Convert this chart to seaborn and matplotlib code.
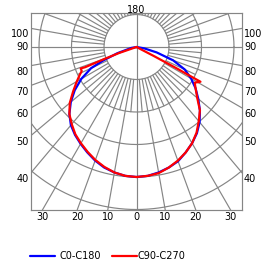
import numpy as np
import pandas as pd
import matplotlib
matplotlib.use("Agg")
import matplotlib.pyplot as plt
import seaborn as sns

# gamma angle (deg, 0 = straight down) and intensity for each half plane
gamma_c0 = [0, 5, 10, 15, 20, 25, 30, 35, 40, 45, 50, 55, 60, 65, 70, 75, 80, 90]
int_c0 = [100, 99.5, 98, 96, 93.5, 89.5, 85.5, 81, 75.5, 69, 62, 55.5, 48.5, 41, 30, 16, 6, 0]
gamma_c180 = [0, 5, 10, 15, 20, 25, 30, 35, 40, 45, 50, 55, 60, 65, 68, 72, 80, 90]
int_c180 = [100, 99.5, 98, 96, 93, 89.5, 86, 82.5, 78.5, 73, 66, 58, 49, 38.5, 27.5, 15.5, 4, 0]
gamma_c90 = [0, 5, 10, 15, 20, 25, 30, 35, 40, 45, 50, 55, 58.5, 61.5, 62, 62.5, 90]
int_c90 = [100, 99.5, 98.5, 96, 93, 89.5, 85.5, 80.5, 74.5, 69, 61, 55.5, 52.5, 56, 34.5, 15.5, 0]
gamma_c270 = [0, 5, 10, 15, 20, 25, 30, 35, 40, 45, 50, 55, 60, 64, 66.3, 69, 68.5, 69.5, 71, 90]
int_c270 = [100, 99.5, 98, 95.5, 92.5, 89, 85.5, 82, 77.5, 73, 67, 59.5, 53, 48.5, 46, 46, 42.5, 27, 14, 0]

plane_names = ["C0-C180", "C90-C270"]
plane_colors = ["#0000ff", "#ff0000"]

side_gammas = [40, 50, 60, 70, 80, 90, 100]
bottom_gammas = [-30, -20, -10, 0, 10, 20, 30]
ring_radii = [25, 50, 75, 100, 125, 150]

sns.set_style("white")
plt.rcParams["font.family"] = ["DejaVu Sans"]
plt.rcParams["font.size"] = 7
plt.rcParams["text.color"] = "black"

PX = 1.3  # pixels per intensity unit


def half(g, r, sign):
    g = np.radians(g)
    r = np.asarray(r, dtype=float)
    return sign * r * np.sin(g), -r * np.cos(g)


def full_curve(g_right, r_right, g_left, r_left):
    xr, yr = half(g_right, r_right, 1)
    xl, yl = half(g_left, r_left, -1)
    return np.concatenate([xr[::-1], xl[1:]]), np.concatenate([yr[::-1], yl[1:]])


xa, ya = full_curve(gamma_c0, int_c0, gamma_c180, int_c180)
xb, yb = full_curve(gamma_c90, int_c90, gamma_c270, int_c270)
df = pd.concat([
    pd.DataFrame({"x": xa, "y": ya, "plane": plane_names[0]}),
    pd.DataFrame({"x": xb, "y": yb, "plane": plane_names[1]}),
], ignore_index=True)

fig = plt.figure(figsize=(2.75, 2.66), dpi=100)
ax = fig.add_axes([30.5 / 275, 56 / 266, 211.5 / 275, 197 / 266])
x_lo, x_hi = (30.5 - 136.5) / PX, (242 - 136.5) / PX
y_lo, y_hi = -(210 - 47) / PX, (47 - 13) / PX
ax.set_xlim(x_lo, x_hi)
ax.set_ylim(y_lo, y_hi)

gc = "#858585"
t = np.linspace(0, 2 * np.pi, 361)
for rr in ring_radii:
    ax.plot(rr * np.cos(t), rr * np.sin(t), color=gc, lw=0.85, zorder=1)
for a in range(0, 360, 10):
    s, c = np.sin(np.radians(a)), -np.cos(np.radians(a))
    r0 = 0 if a % 90 == 0 else 25
    ax.plot([r0 * s, 200 * s], [r0 * c, 200 * c], color=gc, lw=0.85, zorder=1)
for a in range(5, 360, 10):
    s, c = np.sin(np.radians(a)), -np.cos(np.radians(a))
    ax.plot([25 * s, 50 * s], [25 * c, 50 * c], color=gc, lw=0.85, zorder=1)

sns.lineplot(data=df, x="x", y="y", hue="plane", hue_order=plane_names,
             palette=dict(zip(plane_names, plane_colors)), sort=False,
             estimator=None, lw=1.6, legend=False, ax=ax, zorder=3)

for sp in ax.spines.values():
    sp.set_color(gc)
    sp.set_linewidth(0.85)
ax.set_xticks([])
ax.set_yticks([])
ax.set_xlabel("")
ax.set_ylabel("")

# angle labels along the frame
for g in side_gammas:
    yi = x_lo / np.tan(np.radians(g))
    dy = 0 if g == 90 else -6 / PX
    ax.text(x_lo - 1.5 / PX, yi + dy, str(g), ha="right", va="center", clip_on=False)
    ax.text(x_hi + 2 / PX, yi + dy, str(g), ha="left", va="center", clip_on=False)
for g in bottom_gammas:
    xb_ = -y_lo * np.tan(np.radians(g))
    ax.text(xb_, y_lo - 6.5 / PX, str(abs(g)), ha="center", va="center", clip_on=False)
ax.text(0, y_hi + 0.3, "180", ha="center", va="baseline", clip_on=False)

# legend row drawn in pixel coordinates
lax = fig.add_axes([0, 0, 1, 1])
lax.set_xlim(0, 275)
lax.set_ylim(266, 0)
lax.axis("off")
lax.plot([30, 55], [256, 256], color=plane_colors[0], lw=1.6)
lax.text(59, 256, plane_names[0], ha="left", va="center")
lax.plot([112, 137], [256, 256], color=plane_colors[1], lw=1.6)
lax.text(137, 256, plane_names[1], ha="left", va="center")

fig.savefig("out.png", dpi=100)
